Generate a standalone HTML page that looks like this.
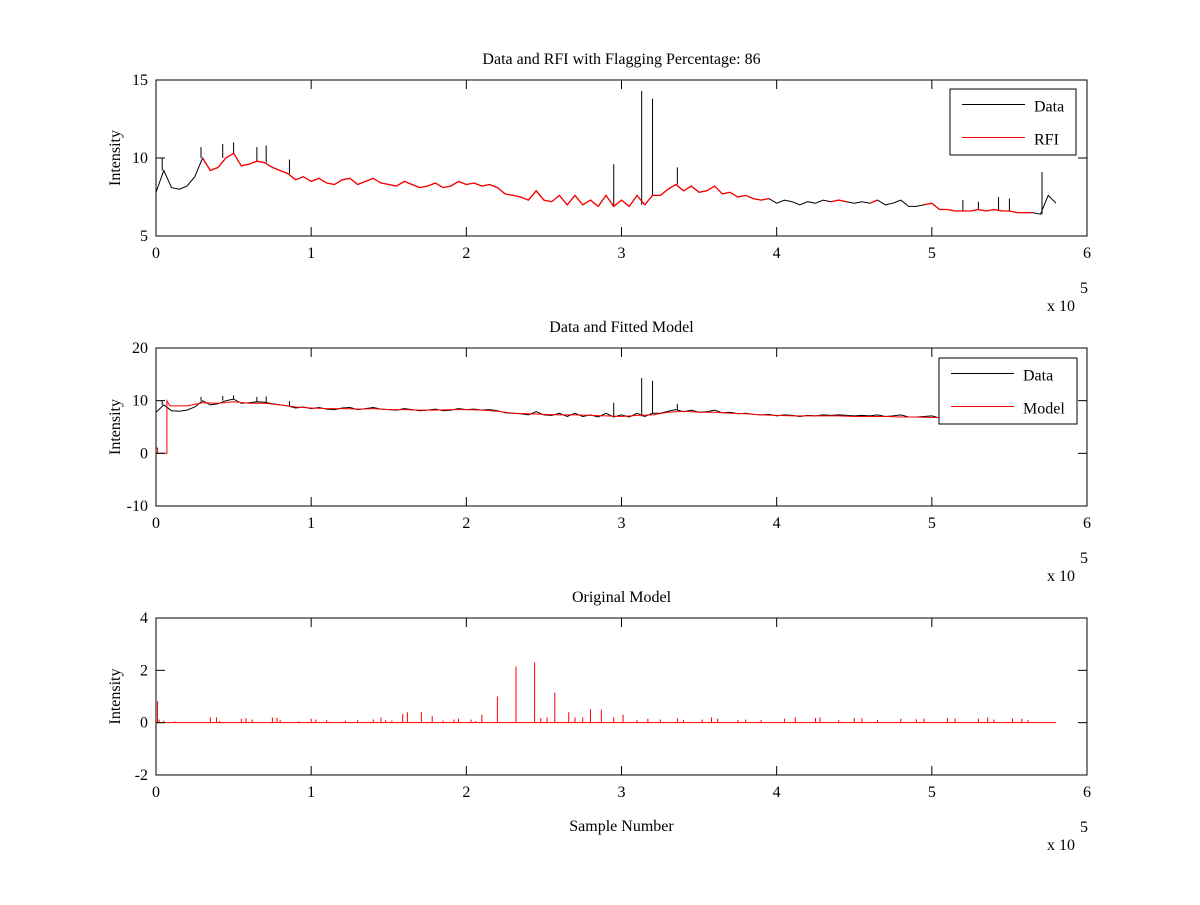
<!DOCTYPE html>
<html><head><meta charset="utf-8"><style>
body{margin:0;background:#fff}
svg text{font-family:"Liberation Serif",serif;font-size:16px;fill:#000}
</style></head><body>
<svg id="fig" width="1200" height="900" viewBox="0 0 1200 900" xmlns="http://www.w3.org/2000/svg"></svg>
<script>
// ---- data (x in units of 1e5 samples) ----
const dataY=[7.8,9.2,8.1,8.0,8.2,8.8,10.0,9.2,9.4,10.0,10.3,9.5,9.6,9.8,9.7,9.4,9.2,9.0,8.6,8.8,8.5,8.7,8.4,8.3,8.6,8.7,8.3,8.5,8.7,8.4,8.3,8.2,8.5,8.3,8.1,8.2,8.4,8.1,8.2,8.5,8.3,8.4,8.2,8.3,8.1,7.7,7.6,7.5,7.3,7.9,7.3,7.2,7.6,7.0,7.6,7.0,7.3,6.9,7.6,6.9,7.3,6.9,7.6,7.0,7.6,7.6,8.0,8.3,7.9,8.2,7.8,7.9,8.2,7.7,7.8,7.5,7.6,7.4,7.3,7.4,7.1,7.3,7.2,7.0,7.2,7.1,7.3,7.2,7.3,7.2,7.1,7.2,7.1,7.3,7.0,7.1,7.3,6.9,6.9,7.0,7.1,6.7,6.7,6.6,6.6,6.6,6.7,6.6,6.7,6.6,6.6,6.5,6.5,6.5,6.4,7.6,7.1];
const dataStep=0.05;
const spikeX=[0.04,0.29,0.43,0.50,0.65,0.71,0.86,2.95,3.13,3.20,3.36,5.20,5.30,5.43,5.50,5.71];
const spikeY=[10.0,10.7,10.9,11.0,10.7,10.8,9.9,9.6,14.3,13.8,9.4,7.3,7.2,7.5,7.4,9.1];
const rfiRanges=[[0.27,3.98],[4.35,4.45],[4.6,4.65],[4.95,5.68]];
const modelX=[0,0.01,0.01,0.07,0.07,0.09,0.1,0.2,0.3,0.4,0.5,0.6,0.7,0.8,0.9,1.0,1.1,1.2,1.3,1.4,1.5,1.6,1.7,1.8,1.9,2.0,2.1,2.2,2.3,2.4,2.5,2.6,2.7,2.8,2.9,3.0,3.1,3.2,3.3,3.4,3.5,3.6,3.7,3.8,3.9,4.0,4.1,4.2,4.3,4.4,4.5,4.6,4.7,4.8,4.9,5.0,5.1];
const modelY=[1,1,0,0,10,9,9.0,9.0,9.6,9.5,9.8,9.5,9.5,9.2,8.8,8.6,8.5,8.5,8.4,8.5,8.3,8.3,8.2,8.2,8.3,8.3,8.2,8.0,7.6,7.5,7.4,7.3,7.3,7.2,7.1,7.0,7.2,7.3,7.8,8.0,7.8,7.8,7.6,7.5,7.3,7.2,7.1,7.1,7.1,7.1,7.0,7.0,7.0,6.9,6.9,6.8,6.8];
const origX=[0.01,0.02,0.05,0.12,0.35,0.39,0.41,0.55,0.58,0.62,0.75,0.78,0.80,0.92,1.00,1.03,1.10,1.22,1.30,1.40,1.45,1.48,1.52,1.59,1.62,1.71,1.78,1.85,1.92,1.95,2.03,2.06,2.10,2.20,2.32,2.44,2.48,2.52,2.57,2.66,2.70,2.75,2.80,2.87,2.95,3.01,3.10,3.17,3.25,3.36,3.40,3.52,3.58,3.62,3.75,3.80,3.90,4.05,4.12,4.25,4.28,4.40,4.50,4.55,4.65,4.80,4.90,4.95,5.10,5.15,5.30,5.36,5.40,5.52,5.58,5.62];
const origH=[0.82,0.12,0.08,0.05,0.20,0.20,0.06,0.15,0.17,0.12,0.20,0.18,0.10,0.06,0.15,0.12,0.10,0.08,0.10,0.12,0.20,0.10,0.08,0.33,0.40,0.40,0.25,0.08,0.12,0.15,0.12,0.06,0.30,1.00,2.15,2.30,0.18,0.20,1.15,0.40,0.20,0.20,0.52,0.50,0.20,0.30,0.10,0.15,0.12,0.17,0.10,0.12,0.20,0.15,0.10,0.12,0.10,0.15,0.20,0.18,0.20,0.10,0.18,0.17,0.10,0.15,0.13,0.15,0.18,0.16,0.15,0.20,0.12,0.16,0.15,0.10];
const xTicks=[0,1,2,3,4,5,6];

const NS="http://www.w3.org/2000/svg";
const svg=document.getElementById('fig');
function mk(tag,attrs,parent){const e=document.createElementNS(NS,tag);for(const k in attrs)e.setAttribute(k,attrs[k]);(parent||svg).appendChild(e);return e;}
const X0=156,X1=1087;
const sx=v=>X0+(v/6)*(X1-X0);

function axes(name,top,bot,ymin,ymax,yTicks,title){
  const sy=v=>bot-(v-ymin)/(ymax-ymin)*(bot-top);
  const g=mk('g',{});
  
  
  const cp=mk('clipPath',{id:'cp-'+name},g);
  mk('rect',{x:X0,y:top,width:X1-X0,height:bot-top},cp);
  const plot=mk('g',{'clip-path':'url(#cp-'+name+')'},g);
  xTicks.forEach(t=>{
    const x=sx(t);
    mk('line',{x1:x,y1:bot,x2:x,y2:bot-9,stroke:'#000'},g);
    mk('line',{x1:x,y1:top,x2:x,y2:top+9,stroke:'#000'},g);
    const tl=mk('text',{x:x,y:bot+22,'text-anchor':'middle'},g);
    tl.textContent=t;
    
    
  });
  yTicks.forEach(t=>{
    const y=sy(t);
    mk('line',{x1:X0,y1:y,x2:X0+9,y2:y,stroke:'#000'},g);
    mk('line',{x1:X1,y1:y,x2:X1-9,y2:y,stroke:'#000'},g);
    const tl=mk('text',{x:X0-8,y:y+5,'text-anchor':'end'},g);
    tl.textContent=t;
    
    
  });
  mk('rect',{x:X0,y:top,width:X1-X0,height:bot-top,fill:'none',stroke:'#000'},g);
  const tt=mk('text',{x:(X0+X1)/2,y:top-16,'text-anchor':'middle'},g);
  tt.textContent=title;
  
  
  const yl=mk('text',{x:0,y:0,'text-anchor':'middle',transform:`translate(${X0-36},${(top+bot)/2}) rotate(-90)`},g);
  yl.textContent='Intensity';
  
  
  const ex=mk('text',{x:1047,y:bot+75},g);
  ex.textContent='x 10';
  
  
  const e5=mk('text',{x:1080,y:bot+57,'font-size':'12'},g);
  e5.textContent='5';
  return {sy,plot,g};
}
function linePath(xs,ys,sy){let d='';for(let i=0;i<xs.length;i++){d+=(i?'L':'M')+sx(xs[i]).toFixed(1)+','+sy(ys[i]).toFixed(1);}return d;}
function dataPts(lo,hi){const xs=[],ys=[];for(let i=0;i<dataY.length;i++){const x=i*dataStep;if(x>=lo-1e-9&&x<=hi+1e-9){xs.push(x);ys.push(dataY[i]);}}return [xs,ys];}
function legend(g,x,y,w,h,labels,colors){
  const lg=mk('g',{},g);
  
  
  mk('rect',{x:x,y:y,width:w,height:h,fill:'#fff',stroke:'#000'},lg);
  labels.forEach((l,i)=>{
    const yy=y+h*(i+0.5)/labels.length;
    mk('line',{x1:x+12,y1:yy-1,x2:x+75,y2:yy-1,stroke:colors[i]},lg);
    const t=mk('text',{x:x+84,y:yy+6,'font-size':'18'},lg);
    t.textContent=l;
    
    
  });
}
function drawSpikes(plot,sy,hi){spikeX.forEach((sxv,i)=>{if(sxv>hi)return;const idx=Math.round(sxv/dataStep);const base=dataY[Math.min(idx,dataY.length-1)];const l=mk('line',{x1:sx(sxv),x2:sx(sxv),y1:sy(base),y2:sy(spikeY[i]),stroke:'#000'},plot);});}

// Plot 1
const a1=axes('rfi-axes',80,236,5,15,[5,10,15],'Data and RFI with Flagging Percentage: 86');
{const [xs,ys]=dataPts(0,5.8);const p=mk('path',{d:linePath(xs,ys,a1.sy),fill:'none',stroke:'#000'},a1.plot);
drawSpikes(a1.plot,a1.sy,6);
rfiRanges.forEach(r=>{const [rx,ry]=dataPts(r[0],r[1]);const q=mk('path',{d:linePath(rx,ry,a1.sy),fill:'none',stroke:'#f00','stroke-width':1.3},a1.plot);});}
legend(a1.g,950,89,126,66,['Data','RFI'],['#000','#f00']);

// Plot 2
const a2=axes('model-axes',348,506,-10,20,[-10,0,10,20],'Data and Fitted Model');
{const [xs,ys]=dataPts(0,5.1);const p=mk('path',{d:linePath(xs,ys,a2.sy),fill:'none',stroke:'#000'},a2.plot);
drawSpikes(a2.plot,a2.sy,5.1);
const q=mk('path',{d:linePath(modelX,modelY,a2.sy),fill:'none',stroke:'#f00'},a2.plot);}
legend(a2.g,939,358,138,66,['Data','Model'],['#000','#f00']);

// Plot 3
const a3=axes('original-model-axes',618,775,-2,4,[-2,0,2,4],'Original Model');
{const b=mk('line',{x1:sx(0),x2:sx(5.8),y1:a3.sy(0),y2:a3.sy(0),stroke:'#f00'},a3.plot);
origX.forEach((v,i)=>{const l=mk('line',{x1:sx(v),x2:sx(v),y1:a3.sy(0),y2:a3.sy(origH[i]),stroke:'#f00'},a3.plot);});}
const xl=mk('text',{x:(X0+X1)/2,y:831,'text-anchor':'middle'});
xl.textContent='Sample Number';


</script>
</body></html>
